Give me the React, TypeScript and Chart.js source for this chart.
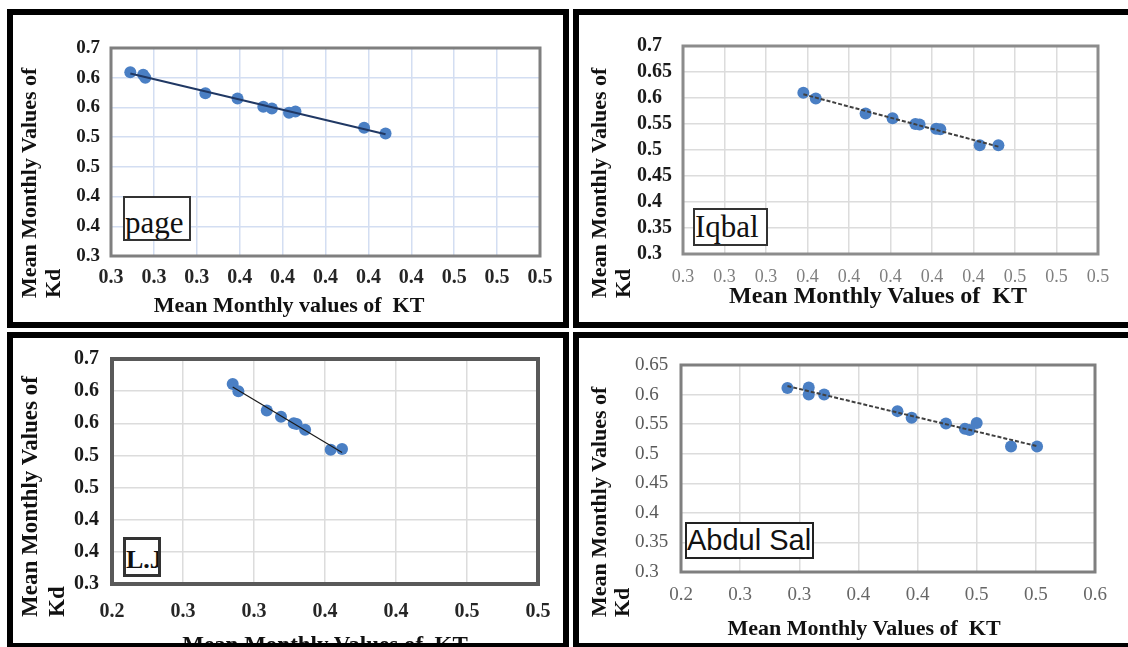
import React, { useEffect, useRef } from 'react';
import { Chart, registerables } from 'chart.js';

Chart.register(...registerables);

// ---------- data ----------
const pageKT = [0.299, 0.305, 0.306, 0.334, 0.349, 0.361, 0.365, 0.373, 0.376, 0.408, 0.418];
const pageKd = [0.609, 0.605, 0.600, 0.574, 0.565, 0.551, 0.548, 0.541, 0.543, 0.516, 0.506];

const iqbalKT = [0.348, 0.354, 0.378, 0.391, 0.402, 0.404, 0.412, 0.414, 0.433, 0.442];
const iqbalKd = [0.610, 0.599, 0.570, 0.561, 0.550, 0.549, 0.541, 0.540, 0.509, 0.509];

const ljKT = [0.285, 0.289, 0.309, 0.319, 0.328, 0.330, 0.336, 0.354, 0.362];
const ljKd = [0.611, 0.600, 0.570, 0.560, 0.550, 0.549, 0.540, 0.509, 0.510];

const asKT = [0.290, 0.308, 0.308, 0.321, 0.383, 0.395, 0.424, 0.440, 0.444, 0.450, 0.479, 0.501];
const asKd = [0.611, 0.612, 0.600, 0.600, 0.572, 0.561, 0.551, 0.542, 0.540, 0.552, 0.512, 0.512];

// ---------- ticks ----------
const ktTicksA = [0.29, 0.31, 0.33, 0.35, 0.37, 0.39, 0.41, 0.43, 0.45, 0.47, 0.49];
const ktLabelsA = ['0.3', '0.3', '0.3', '0.4', '0.4', '0.4', '0.4', '0.4', '0.5', '0.5', '0.5'];
const ktTicksLJ = [0.2, 0.25, 0.3, 0.35, 0.4, 0.45, 0.5];
const ktLabelsLJ = ['0.2', '0.3', '0.3', '0.4', '0.4', '0.5', '0.5'];
const ktTicksAS = [0.2, 0.25, 0.3, 0.35, 0.4, 0.45, 0.5, 0.55];
const ktLabelsAS = ['0.2', '0.3', '0.3', '0.4', '0.4', '0.5', '0.5', '0.6'];

const kdTicks65 = [0.3, 0.35, 0.4, 0.45, 0.5, 0.55, 0.6, 0.65];
const kdLabelsRounded = ['0.3', '0.4', '0.4', '0.5', '0.5', '0.6', '0.6', '0.7'];
const kdLabels65 = ['0.3', '0.35', '0.4', '0.45', '0.5', '0.55', '0.6', '0.65'];
const kdTicks70 = [0.3, 0.35, 0.4, 0.45, 0.5, 0.55, 0.6, 0.65, 0.7];
const kdLabels70 = ['0.3', '0.35', '0.4', '0.45', '0.5', '0.55', '0.6', '0.65', '0.7'];

const SERIF = "'Liberation Serif', 'Times New Roman', serif";
const SANS = "'Liberation Sans', Arial, sans-serif";
const MARKER = '#4a7fc4';

interface PanelSpec {
  key: string;
  left: number; top: number; width: number; height: number;
  kt: number[]; kd: number[];
  xTicks: number[]; xLabels: string[];
  yTicks: number[]; yLabels: string[];
  pad: { left: number; top: number; right: number; bottom: number };
  yAxisWidth: number; xAxisHeight: number;
  yTickPad: number; xTickPad: number;
  yCross: 'near' | 'far';
  yFontSize: number; yFontWeight: string; yColor: string;
  xFontSize: number; xFontWeight: string; xColor: string;
  gridColor: string; gridWidth: number;
  borderColor: string; borderWidth: number;
  trendColor: string; trendWidth: number; trendDash: number[];
}

const panels: PanelSpec[] = [
  {
    key: 'page', left: 7, top: 9, width: 562, height: 319,
    kt: pageKT, kd: pageKd,
    xTicks: ktTicksA, xLabels: ktLabelsA, yTicks: kdTicks65, yLabels: kdLabelsRounded,
    pad: { left: 64, top: 39, right: 29, bottom: 32 }, yAxisWidth: 40, xAxisHeight: 40,
    yTickPad: 11, xTickPad: 10, yCross: 'near',
    yFontSize: 19, yFontWeight: 'bold', yColor: '#1a1a1a',
    xFontSize: 20, xFontWeight: 'bold', xColor: '#262626',
    gridColor: '#d3def2', gridWidth: 1.5, borderColor: '#7f7f7f', borderWidth: 3,
    trendColor: '#203864', trendWidth: 2, trendDash: [],
  },
  {
    key: 'iqbal', left: 573, top: 9, width: 562, height: 319,
    kt: iqbalKT, kd: iqbalKd,
    xTicks: ktTicksA, xLabels: ktLabelsA, yTicks: kdTicks70, yLabels: kdLabels70,
    pad: { left: 64, top: 37, right: 37, bottom: 34 }, yAxisWidth: 46, xAxisHeight: 40,
    yTickPad: 8, xTickPad: 12, yCross: 'far',
    yFontSize: 20, yFontWeight: 'bold', yColor: '#1a1a1a',
    xFontSize: 18, xFontWeight: 'normal', xColor: '#7f7f7f',
    gridColor: '#dcdcdc', gridWidth: 1.5, borderColor: '#8c8c8c', borderWidth: 3,
    trendColor: '#404040', trendWidth: 2, trendDash: [4, 2],
  },
  {
    key: 'lj', left: 7, top: 332, width: 562, height: 317,
    kt: ljKT, kd: ljKd,
    xTicks: ktTicksLJ, xLabels: ktLabelsLJ, yTicks: kdTicks65, yLabels: kdLabelsRounded,
    pad: { left: 65, top: 27, right: 31, bottom: 25 }, yAxisWidth: 40, xAxisHeight: 40,
    yTickPad: 13, xTickPad: 16, yCross: 'near',
    yFontSize: 20, yFontWeight: 'bold', yColor: '#1a1a1a',
    xFontSize: 20, xFontWeight: 'bold', xColor: '#262626',
    gridColor: '#dcdcdc', gridWidth: 1.5, borderColor: '#595959', borderWidth: 4,
    trendColor: '#1a1a1a', trendWidth: 1.2, trendDash: [],
  },
  {
    key: 'abdul', left: 573, top: 332, width: 562, height: 317,
    kt: asKT, kd: asKd,
    xTicks: ktTicksAS, xLabels: ktLabelsAS, yTicks: kdTicks65, yLabels: kdLabels65,
    pad: { left: 62, top: 33, right: 40, bottom: 37 }, yAxisWidth: 46, xAxisHeight: 40,
    yTickPad: 8, xTickPad: 12, yCross: 'far',
    yFontSize: 19, yFontWeight: 'normal', yColor: '#595959',
    xFontSize: 19, xFontWeight: 'normal', xColor: '#666666',
    gridColor: '#dcdcdc', gridWidth: 1.5, borderColor: '#7f7f7f', borderWidth: 3,
    trendColor: '#404040', trendWidth: 2, trendDash: [4, 2],
  },
];

// linear least-squares trendline over the data range
function trendLine(xs: number[], ys: number[]) {
  const n = xs.length;
  const mx = xs.reduce((a, b) => a + b, 0) / n;
  const my = ys.reduce((a, b) => a + b, 0) / n;
  let sxy = 0, sxx = 0;
  for (let i = 0; i < n; i++) { sxy += (xs[i] - mx) * (ys[i] - my); sxx += (xs[i] - mx) ** 2; }
  const b = sxy / sxx;
  const a = my - b * mx;
  const x0 = Math.min(...xs), x1 = Math.max(...xs);
  return [{ x: x0, y: a + b * x0 }, { x: x1, y: a + b * x1 }];
}

const plotBorderPlugin = {
  id: 'plotBorder',
  beforeDatasetsDraw(chart: any, _args: any, opts: any) {
    const { ctx, chartArea: a } = chart;
    ctx.save();
    ctx.strokeStyle = opts.color;
    ctx.lineWidth = opts.width;
    ctx.strokeRect(a.left, a.top, a.right - a.left, a.bottom - a.top);
    ctx.restore();
  },
};

function buildConfig(s: PanelSpec): any {
  const pts = s.kt.map((x, i) => ({ x, y: s.kd[i] }));
  return {
    type: 'scatter',
    data: {
      datasets: [
        {
          label: 'trend', data: trendLine(s.kt, s.kd), showLine: true,
          borderColor: s.trendColor, borderWidth: s.trendWidth, borderDash: s.trendDash,
          pointRadius: 0, pointHoverRadius: 0, order: 0,
        },
        {
          label: 'Kd', data: pts, backgroundColor: MARKER, borderColor: MARKER,
          borderWidth: 0, pointRadius: 6, pointHoverRadius: 6, order: 1,
        },
      ],
    },
    options: {
      animation: false, responsive: false, events: [],
      layout: { padding: s.pad },
      plugins: {
        legend: { display: false }, tooltip: { enabled: false },
        plotBorder: { color: s.borderColor, width: s.borderWidth },
      },
      scales: {
        x: {
          type: 'linear', min: s.xTicks[0], max: s.xTicks[s.xTicks.length - 1],
          afterBuildTicks: (sc: any) => { sc.ticks = s.xTicks.map((v) => ({ value: v })); },
          afterFit: (sc: any) => { sc.height = s.xAxisHeight; },
          ticks: {
            autoSkip: false, maxRotation: 0, minRotation: 0, padding: s.xTickPad,
            color: s.xColor, font: { family: SERIF, size: s.xFontSize, weight: s.xFontWeight },
            callback: (_v: any, i: number) => s.xLabels[i],
          },
          grid: { color: s.gridColor, lineWidth: s.gridWidth, drawTicks: false },
          border: { display: false },
        },
        y: {
          type: 'linear', min: s.yTicks[0], max: s.yTicks[s.yTicks.length - 1],
          afterBuildTicks: (sc: any) => { sc.ticks = s.yTicks.map((v) => ({ value: v })); },
          afterFit: (sc: any) => { sc.width = s.yAxisWidth; },
          ticks: {
            autoSkip: false, padding: s.yTickPad, crossAlign: s.yCross,
            color: s.yColor, font: { family: SERIF, size: s.yFontSize, weight: s.yFontWeight },
            callback: (_v: any, i: number) => s.yLabels[i],
          },
          grid: { color: s.gridColor, lineWidth: s.gridWidth, drawTicks: false },
          border: { display: false },
        },
      },
    },
    plugins: [plotBorderPlugin],
  };
}

function PanelChart({ spec }: { spec: PanelSpec }) {
  const ref = useRef<HTMLCanvasElement>(null);
  useEffect(() => {
    if (!ref.current) return;
    const chart = new Chart(ref.current, buildConfig(spec));
    return () => chart.destroy();
  }, [spec]);
  return (
    <canvas
      ref={ref}
      width={spec.width}
      height={spec.height}
      style={{ position: 'absolute', left: spec.left, top: spec.top, width: spec.width, height: spec.height }}
    />
  );
}

// ---------- overlay texts ----------
const xTitles = [
  { text: 'Mean Monthly values of  KT', cx: 289, cy: 305, size: 22, lh: 24 },
  { text: 'Mean Monthly Values of  KT', cx: 878, cy: 295, size: 24, lh: 26 },
  { text: 'Mean Monthly Values of  KT', cx: 325, cy: 644.5, size: 23, lh: 26 },
  { text: 'Mean Monthly Values of  KT', cx: 864, cy: 628, size: 22, lh: 24 },
];
const yTitleLines = ['Mean Monthly Values of', 'Kd'];
const yTitles = [
  { left: 17, bottom: 298, size: 22, lh: 24 },
  { left: 586.5, bottom: 298, size: 22, lh: 24 },
  { left: 15.5, bottom: 617, size: 23, lh: 27 },
  { left: 587, bottom: 617, size: 22, lh: 23 },
];
const nameBoxes = [
  { text: 'page', x: 123, y: 196, w: 68, h: 45, family: SERIF, size: 31, weight: 'normal', textTop: 9, border: '2px solid #333' },
  { text: 'Iqbal', x: 693, y: 208, w: 75, h: 38, family: SERIF, size: 31, weight: 'normal', textTop: 1, border: '2px solid #333' },
  { text: 'L.J', x: 123, y: 537, w: 38, h: 40, family: SERIF, size: 26, weight: 'bold', textTop: 7, border: '3px solid #333' },
  { text: 'Abdul Sal', x: 685, y: 522, w: 129, h: 37, family: SANS, size: 29, weight: 'normal', textTop: 2, border: '2px solid #222' },
];
const frames = [
  { x: 7, y: 9, w: 562, h: 319 },
  { x: 573, y: 9, w: 562, h: 319 },
  { x: 7, y: 332, w: 562, h: 317 },
  { x: 573, y: 332, w: 562, h: 317 },
];

export default function App() {
  return (
    <div style={{ position: 'absolute', left: 0, top: 0, width: 1128, height: 647, overflow: 'hidden', background: '#ffffff' }}>
      {panels.map((p) => <PanelChart key={p.key} spec={p} />)}
      {xTitles.map((t, i) => (
        <div key={'xt' + i} style={{
          position: 'absolute', left: t.cx - 300, width: 600, top: t.cy - t.lh / 2, lineHeight: t.lh + 'px',
          textAlign: 'center', whiteSpace: 'pre', fontFamily: SERIF, fontWeight: 'bold', fontSize: t.size, color: '#111',
        }}>{t.text}</div>
      ))}
      {yTitles.map((t, i) => (
        <div key={'yt' + i} style={{
          position: 'absolute', left: t.left, top: t.bottom, transform: 'rotate(-90deg)', transformOrigin: '0 0',
          whiteSpace: 'pre', fontFamily: SERIF, fontWeight: 'bold', fontSize: t.size, lineHeight: t.lh + 'px', color: '#111',
        }}>{yTitleLines.join('\n')}</div>
      ))}
      {nameBoxes.map((b, i) => (
        <div key={'nb' + i} style={{
          position: 'absolute', left: b.x, top: b.y, width: b.w, height: b.h, boxSizing: 'border-box',
          border: b.border, background: '#fff', overflow: 'hidden',
        }}>
          <div style={{
            position: 'absolute', left: 0, top: b.textTop, whiteSpace: 'pre', fontFamily: b.family,
            fontSize: b.size, fontWeight: b.weight as any, lineHeight: b.size + 'px', color: '#111',
          }}>{b.text}</div>
        </div>
      ))}
      {frames.map((f, i) => (
        <div key={'fr' + i} style={{
          position: 'absolute', left: f.x, top: f.y, width: f.w, height: f.h, boxSizing: 'border-box',
          border: '6px solid #000', pointerEvents: 'none',
        }} />
      ))}
    </div>
  );
}
